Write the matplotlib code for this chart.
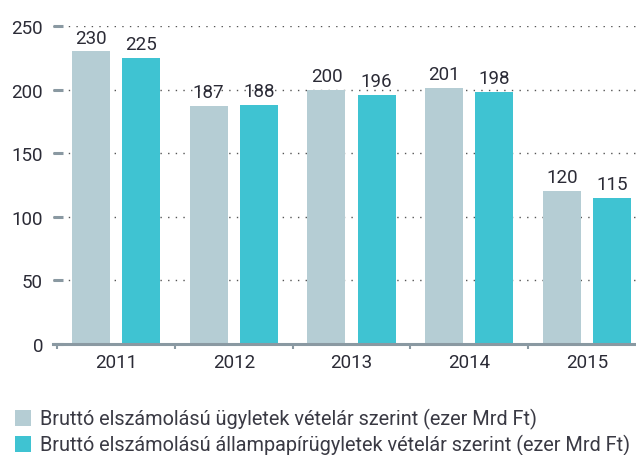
import matplotlib
matplotlib.use("Agg")
import matplotlib.pyplot as plt
from matplotlib.patches import Rectangle
import numpy as np

years = ["2011", "2012", "2013", "2014", "2015"]
series1_name = "Bruttó elszámolású ügyletek vételár szerint (ezer Mrd Ft)"
series2_name = "Bruttó elszámolású állampapírügyletek vételár szerint (ezer Mrd Ft)"
series1 = [230, 187, 200, 201, 120]
series2 = [225, 188, 196, 198, 115]
yticks = [0, 50, 100, 150, 200, 250]

C1 = "#b5cdd4"
C2 = "#3fc3d2"
TXT = "#2b2b36"
AX = "#8a99a2"

plt.rcParams['font.family'] = ['Roboto', 'DejaVu Sans']

W, H = 636, 456
fig = plt.figure(figsize=(W / 100, H / 100), dpi=100)
ax = fig.add_axes([53 / W, 111 / H, (W - 53) / W, 318 / H])

x = np.arange(len(years))
off = 0.2128
bw = 0.323
b1 = ax.bar(x - off, series1, bw, color=C1, zorder=2)
b2 = ax.bar(x + off, series2, bw, color=C2, zorder=2)

for bars, vals in ((b1, series1), (b2, series2)):
    for r, v in zip(bars, vals):
        ax.annotate(str(v), (r.get_x() + r.get_width() / 2, r.get_height()),
                    xytext=(0, 3.5), textcoords="offset points",
                    ha="center", va="bottom", fontsize=13.5, color=TXT, zorder=3)

ax.set_xlim(-0.536, 4.417)
ax.set_ylim(0, 250)

for s in ("top", "right", "left"):
    ax.spines[s].set_visible(False)
ax.spines["bottom"].set_color(AX)
ax.spines["bottom"].set_linewidth(2.2)
ax.spines["bottom"].set_zorder(4)

ax.set_yticks(yticks)
ax.set_yticklabels([str(t) for t in yticks])
ax.tick_params(axis="y", direction="in", length=7.2, width=2.2, color=AX,
               pad=7.2, labelsize=13.5, labelcolor=TXT)

ax.set_xticks(np.arange(-0.5, 4.5, 1.0))
ax.set_xticklabels([])
ax.set_xticks(x, minor=True)
ax.set_xticklabels(years, minor=True)
ax.tick_params(axis="x", which="major", direction="out", length=3.6, width=1.5, color=AX)
ax.tick_params(axis="x", which="minor", length=0, pad=6.5, labelsize=13.5, labelcolor=TXT)

ax.set_axisbelow(True)
ax.yaxis.grid(True, linestyle=(0, (1, 4.5)), linewidth=1.0, color="#555555")
ax.xaxis.grid(False)

# legend
for i, (name, col) in enumerate(((series1_name, C1), (series2_name, C2))):
    yc = 419 + i * 26
    fig.patches.append(Rectangle((15 / W, (H - yc - 8) / H), 16 / W, 16 / H,
                                 transform=fig.transFigure, facecolor=col,
                                 edgecolor="none"))
    fig.text(40 / W, (H - yc) / H, name, ha="left", va="center",
             fontsize=14.3, color="#3a3a44")

fig.savefig("out.png", dpi=100)
